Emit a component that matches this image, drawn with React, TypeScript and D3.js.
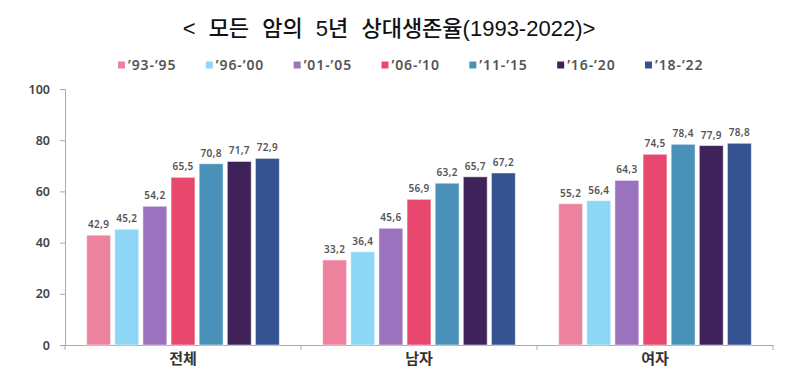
import { useEffect, useRef } from "react";
import * as d3 from "d3";

const W = 800;
const H = 371;

const CATEGORIES = ["전체", "남자", "여자"];
const PERIODS = ["'93-'95", "'96-'00", "'01-'05", "'06-'10", "'11-'15", "'16-'20", "'18-'22"];
const COLORS = ["#ee83a0", "#8ed6f6", "#9a72be", "#e8476e", "#4a91b9", "#3f2259", "#365391"];

// one array per period, values for 전체 / 남자 / 여자
const P93_95 = [42.9, 33.2, 55.2];
const P96_00 = [45.2, 36.4, 56.4];
const P01_05 = [54.2, 45.6, 64.3];
const P06_10 = [65.5, 56.9, 74.5];
const P11_15 = [70.8, 63.2, 78.4];
const P16_20 = [71.7, 65.7, 77.9];
const P18_22 = [72.9, 67.2, 78.8];
const SERIES = [P93_95, P96_00, P01_05, P06_10, P11_15, P16_20, P18_22];

const Y_TICKS = [0, 20, 40, 60, 80, 100];

const TITLE_FONT = '"Liberation Sans", "Noto Sans CJK KR", sans-serif';
const KR_FONT = '"Noto Sans CJK KR", "Noto Sans", sans-serif';
const NUM_FONT = '"Noto Sans", "DejaVu Sans", sans-serif';

const PLOT = { left: 65, right: 773, top: 89, bottom: 345 };

export default function App() {
  const svgRef = useRef<SVGSVGElement | null>(null);

  useEffect(() => {
    const svg = d3.select(svgRef.current);
    svg.selectAll("*").remove();

    const x0 = d3.scaleBand<string>().domain(CATEGORIES).range([PLOT.left, PLOT.right]).padding(0);
    const x1 = d3
      .scaleBand<number>()
      .domain(d3.range(PERIODS.length))
      .range([0, x0.bandwidth()])
      .paddingInner(0.15)
      .paddingOuter(0.77);
    const y = d3.scaleLinear().domain([0, 100]).range([PLOT.bottom, PLOT.top]);

    // title
    svg
      .append("text")
      .attr("x", 389)
      .attr("y", 36)
      .attr("text-anchor", "middle")
      .attr("font-family", TITLE_FONT)
      .attr("font-size", 22)
      .attr("font-weight", 500)
      .attr("word-spacing", 7)
      .attr("fill", "#111")
      .text("< 모든 암의 5년 상대생존율(1993-2022)>");

    // legend
    const legendX = d3.scaleLinear().domain([0, PERIODS.length - 1]).range([118, 645]);
    const legend = svg.append("g");
    PERIODS.forEach((p, i) => {
      const lx = legendX(i);
      legend
        .append("rect")
        .attr("x", lx)
        .attr("y", 61.5)
        .attr("width", 7)
        .attr("height", 7)
        .attr("fill", COLORS[i]);
      legend
        .append("text")
        .attr("x", lx + 10)
        .attr("y", 70)
        .attr("font-family", NUM_FONT)
        .attr("font-size", 14)
        .attr("font-weight", 600)
        .attr("letter-spacing", 0.9)
        .attr("fill", "#555")
        .text(p.replace(/'/g, "’"));
    });

    // y axis
    const yAxis = svg
      .append("g")
      .attr("transform", `translate(${PLOT.left},0)`)
      .call(d3.axisLeft(y).tickValues(Y_TICKS).tickSize(5).tickPadding(10));
    yAxis.select(".domain").attr("stroke", "#aaa");
    yAxis.selectAll(".tick line").attr("stroke", "#aaa");
    yAxis
      .selectAll(".tick text")
      .attr("fill", "#444")
      .attr("font-size", 12.5)
      .attr("font-weight", 600)
      .attr("font-family", NUM_FONT);

    // x axis
    const xAxis = svg
      .append("g")
      .attr("transform", `translate(0,${PLOT.bottom})`)
      .call(d3.axisBottom(x0).tickSize(0).tickSizeOuter(0));
    xAxis.select(".domain").attr("stroke", "#aaa");
    xAxis
      .selectAll(".tick text")
      .attr("dy", "1.05em")
      .attr("fill", "#333")
      .attr("font-size", 15)
      .attr("font-weight", 700)
      .attr("font-family", KR_FONT);

    // boundary ticks between groups
    svg
      .append("g")
      .selectAll("line")
      .data([...CATEGORIES.map((c) => x0(c) as number), PLOT.right])
      .join("line")
      .attr("x1", (d) => d)
      .attr("x2", (d) => d)
      .attr("y1", PLOT.bottom)
      .attr("y2", PLOT.bottom + 5)
      .attr("stroke", "#aaa");

    // bars
    const groups = svg
      .append("g")
      .selectAll("g")
      .data(CATEGORIES)
      .join("g")
      .attr("transform", (c) => `translate(${x0(c)},0)`);

    groups.each(function (_, ci) {
      const g = d3.select(this);
      SERIES.forEach((vals, si) => {
        const v = vals[ci];
        g.append("rect")
          .attr("x", x1(si) as number)
          .attr("y", y(v))
          .attr("width", x1.bandwidth())
          .attr("height", y(0) - y(v))
          .attr("fill", COLORS[si])
          .attr("stroke", "#fff")
          .attr("stroke-opacity", 0.5)
          .attr("stroke-width", 1);
        g.append("text")
          .attr("x", (x1(si) as number) + x1.bandwidth() / 2)
          .attr("y", y(v) - 7)
          .attr("text-anchor", "middle")
          .attr("font-family", NUM_FONT)
          .attr("font-size", 10)
          .attr("font-weight", 600)
          .attr("letter-spacing", 0.3)
          .attr("fill", "#555")
          .text(v.toFixed(1).replace(".", ","));
      });
    });
  }, []);

  return (
    <svg
      ref={svgRef}
      width={W}
      height={H}
      viewBox={`0 0 ${W} ${H}`}
      style={{ position: "absolute", left: 0, top: 0, background: "#fff", display: "block" }}
    />
  );
}
